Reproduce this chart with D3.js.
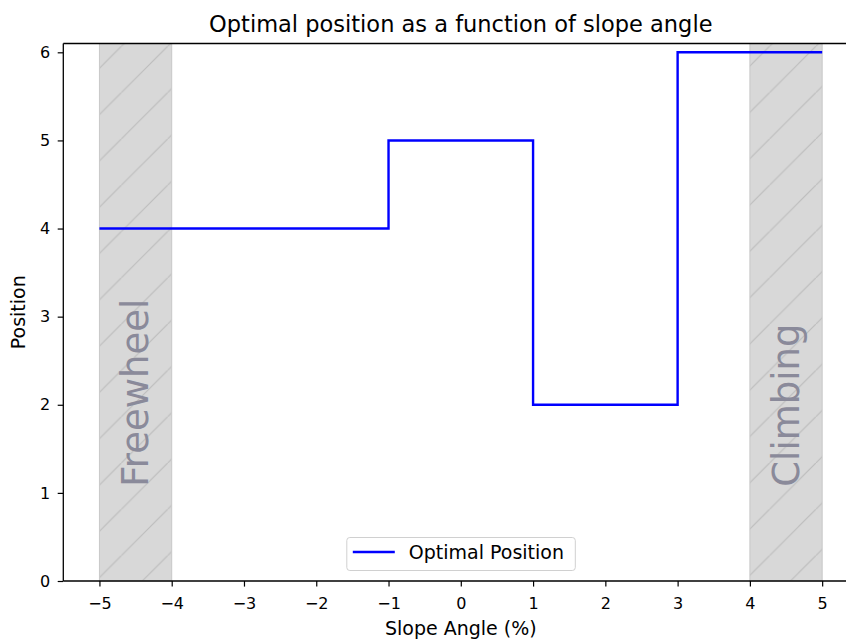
<!DOCTYPE html>
<html><head><meta charset="utf-8">
<script src="https://cdn.jsdelivr.net/npm/d3@7"></script>
<style>body{margin:0;background:#fff}svg{display:block}text{font-family:"DejaVu Sans",sans-serif}</style>
</head><body>
<script>
const stepX = [-5, -1, 1, 3, 5];
const stepY = [4, 5, 2, 6, 6];
const bandStart = [-5, 4];
const bandEnd = [-4, 5];
const bandLabels = ["Freewheel", "Climbing"];
const xTicks = [-5, -4, -3, -2, -1, 0, 1, 2, 3, 4, 5];
const yTicks = [0, 1, 2, 3, 4, 5, 6];
const titleText = "Optimal position as a function of slope angle";
const xLabel = "Slope Angle (%)";
const yLabel = "Position";
const legendLabel = "Optimal Position";

const W = 846, H = 641;
const m = {left: 63.3, top: 43.5, right: 858.3, bottom: 581};
const svg = d3.select("body").append("svg").attr("width", W).attr("height", H);
const x = d3.scaleLinear().domain([-5.5, 5.5]).range([m.left, m.right]);
const y = d3.scaleLinear().domain([0, 6.1]).range([m.bottom, m.top]);

const S = 46.3;
const defs = svg.append("defs");
const pat = defs.append("pattern").attr("id", "hatch").attr("patternUnits", "userSpaceOnUse")
  .attr("x", 28.8).attr("y", 0).attr("width", S).attr("height", S);
pat.append("rect").attr("width", S).attr("height", S).attr("fill", "#d8d8d8");
pat.selectAll("line").data([[-5, S + 5, S + 5, -5], [-S - 5, 5, 5, -S - 5], [S - 5, 2 * S + 5, 2 * S + 5, S - 5]]).join("line")
  .attr("x1", d => d[0]).attr("y1", d => d[1]).attr("x2", d => d[2]).attr("y2", d => d[3])
  .attr("stroke", "#bcbcbc").attr("stroke-width", 1.1);

const bands = bandStart.map((s, i) => ({s, e: bandEnd[i], label: bandLabels[i]}));
svg.append("g").selectAll("rect").data(bands).join("rect")
  .attr("x", d => x(d.s)).attr("y", m.top).attr("width", d => x(d.e) - x(d.s)).attr("height", m.bottom - m.top)
  .attr("fill", "url(#hatch)").attr("stroke", "#c8c8c8").attr("stroke-width", 1);

svg.append("g").selectAll("text").data(bands).join("text")
  .attr("transform", d => `translate(${x((d.s + d.e) / 2)},${y(1.07)}) rotate(-90)`)
  .attr("text-anchor", "start").attr("dominant-baseline", "central")
  .attr("font-size", 37).attr("fill", "#8a8a9a").text(d => d.label);

const pts = stepX.map((v, i) => [v, stepY[i]]);
svg.append("path").datum(pts)
  .attr("d", d3.line().x(d => x(d[0])).y(d => y(d[1])).curve(d3.curveStepAfter))
  .attr("fill", "none").attr("stroke", "#0000ff").attr("stroke-width", 2.4);

// axes
const xAxis = svg.append("g").attr("transform", `translate(0,${m.bottom})`)
  .call(d3.axisBottom(x).tickValues(xTicks).tickSize(5.6).tickPadding(11).tickFormat(d => d < 0 ? "\u2212" + Math.abs(d) : d));
const yAxis = svg.append("g").attr("transform", `translate(${m.left},0)`)
  .call(d3.axisLeft(y).tickValues(yTicks).tickSize(5.6).tickPadding(7.4).tickFormat(d3.format("d")));
[xAxis, yAxis].forEach(g => {
  g.select(".domain").remove();
  g.selectAll("line").attr("stroke", "#000").attr("stroke-width", 1.2);
  g.selectAll("text").attr("font-size", 16).attr("fill", "#000").style("font-family", '"DejaVu Sans",sans-serif');
});
// spines
svg.append("line").attr("x1", m.left).attr("x2", m.right).attr("y1", m.bottom).attr("y2", m.bottom).attr("stroke", "#000").attr("stroke-width", 1.3);
svg.append("line").attr("x1", m.left).attr("x2", m.right).attr("y1", m.top).attr("y2", m.top).attr("stroke", "#000").attr("stroke-width", 1.3);
svg.append("line").attr("x1", m.left).attr("x2", m.left).attr("y1", m.top).attr("y2", m.bottom).attr("stroke", "#000").attr("stroke-width", 1.3);

svg.append("text").attr("x", (m.left + m.right) / 2).attr("y", 32).attr("text-anchor", "middle")
  .attr("font-size", 22.5).attr("fill", "#000").text(titleText);
svg.append("text").attr("x", (m.left + m.right) / 2).attr("y", 635).attr("text-anchor", "middle")
  .attr("font-size", 19).attr("fill", "#000").text(xLabel);
svg.append("text").attr("transform", `translate(25,${(m.top + m.bottom) / 2}) rotate(-90)`).attr("text-anchor", "middle")
  .attr("font-size", 19).attr("fill", "#000").text(yLabel);

// legend
const lg = svg.append("g").attr("transform", `translate(${x(0)},0)`);
lg.append("rect").attr("x", -114).attr("y", 537.5).attr("width", 228.5).attr("height", 33).attr("rx", 3)
  .attr("fill", "#fff").attr("fill-opacity", 0.8).attr("stroke", "#d0d0d0");
lg.append("line").attr("x1", -108).attr("x2", -66).attr("y1", 552).attr("y2", 552).attr("stroke", "#0000ff").attr("stroke-width", 2.4);
lg.append("text").attr("x", -52).attr("y", 558.5).attr("font-size", 19).attr("fill", "#000").text(legendLabel);
</script>
</body></html>
